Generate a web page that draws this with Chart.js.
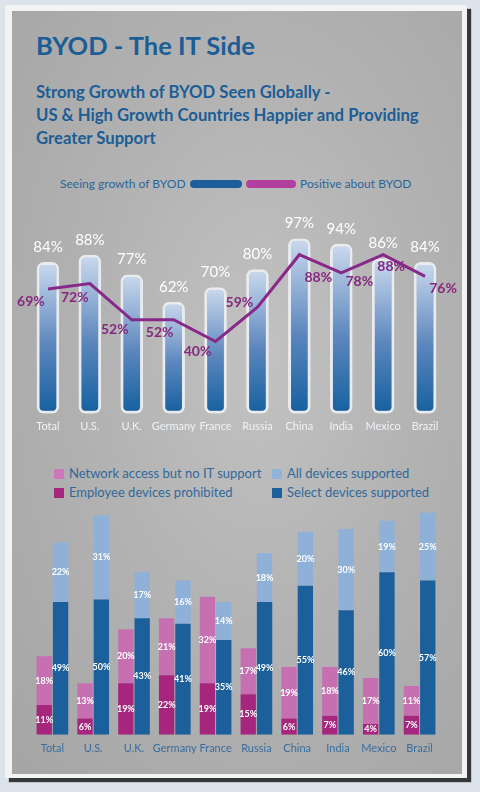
<!DOCTYPE html>
<html>
<head>
<meta charset="utf-8">
<title>BYOD - The IT Side</title>
<script src="https://cdn.jsdelivr.net/npm/chart.js@4.4.1/dist/chart.umd.min.js"></script>
<style>
    body {
        margin: 0;
        width: 480px;
        height: 792px;
        background: #dce3ea;
        position: relative;
        overflow: hidden;
        font-family: Lato, "Open Sans", sans-serif;
    }
    #frame {
        position: absolute;
        left: 5px;
        top: 5px;
        width: 462px;
        height: 773px;
        background: #f1f3f5;
        box-shadow: 4px 4px 1px rgba(25, 25, 25, 0.85);
    }
    #panel {
        position: absolute;
        left: 12px;
        top: 11px;
        width: 450px;
        height: 763px;
        background: radial-gradient(ellipse at 55% 45%, #c2c2c2 0%, #b3b3b3 45%, #a5a5a5 100%);
    }
    h1 {
        position: absolute;
        left: 36px;
        top: 30px;
        margin: 0;
        font-size: 25.5px;
        font-weight: 700;
        color: #1b5d95;
    }
    h2 {
        position: absolute;
        left: 36px;
        top: 81px;
        margin: 0;
        font-size: 16.7px;
        line-height: 23px;
        font-weight: 700;
        color: #1b5d95;
    }
    .legend-top {
        position: absolute;
        top: 176px;
        left: 0;
        width: 480px;
        font-size: 12px;
        color: #2c659a;
    }
    .legend-top span { position: absolute; top: 0; }
    .pill {
        position: absolute;
        top: 180px;
        height: 8px;
        border-radius: 4px;
    }
    .legend-bottom {
        position: absolute;
        font-size: 13px;
        color: #31699b;
        white-space: nowrap;
    }
    .legend-bottom i {
        display: inline-block;
        width: 10px;
        height: 10px;
        margin-right: 5px;
        vertical-align: -1px;
    }
    .chart-box { position: absolute; left: 0; width: 480px; }
</style>
</head>
<body>
<div id="frame"></div>
<div id="panel"></div>

<h1>BYOD - The IT Side</h1>
<h2>Strong Growth of BYOD Seen Globally -<br>US &amp; High Growth Countries Happier and Providing<br>Greater Support</h2>

<div class="legend-top">
    <span style="left:60px">Seeing growth of BYOD</span>
    <span style="left:300px">Positive about BYOD</span>
</div>
<div class="pill" style="left:190px;width:52px;background:#1a5e9a"></div>
<div class="pill" style="left:246px;width:50px;background:#b0409c"></div>

<div class="legend-bottom" style="left:54px;top:465px"><i style="background:#cc77b8"></i>Network access but no IT support</div>
<div class="legend-bottom" style="left:54px;top:484px"><i style="background:#a5267c"></i>Employee devices prohibited</div>
<div class="legend-bottom" style="left:272px;top:465px"><i style="background:#93b4da"></i>All devices supported</div>
<div class="legend-bottom" style="left:272px;top:484px"><i style="background:#1b5f9b"></i>Select devices supported</div>

<div class="chart-box" style="top:215px;height:235px"><canvas id="growthChart"></canvas></div>
<div class="chart-box" style="top:455px;height:317px"><canvas id="supportChart"></canvas></div>

<script>
// datos
const countries = ['Total', 'U.S.', 'U.K.', 'Germany', 'France', 'Russia', 'China', 'India', 'Mexico', 'Brazil'];

const seeingGrowth = [84, 88, 77, 62, 70, 80, 97, 94, 86, 84];
const positiveAbout = [69, 72, 52, 52, 40, 59, 88, 78, 88, 76];

const devicesProhibited = [11, 6, 19, 22, 19, 15, 6, 7, 4, 7];
const networkNoSupport = [18, 13, 20, 21, 32, 17, 19, 18, 17, 11];
const selectSupported = [49, 50, 43, 41, 35, 49, 55, 46, 60, 57];
const allSupported = [22, 31, 17, 16, 14, 18, 20, 30, 19, 25];

// dónde va cada etiqueta morada respecto a su punto (dx, dy)
const lineLabelOffsets = [
    [-17, 12], [-15, 14], [-17, 10], [-14, 13], [-18, 10],
    [-18, -5], [19, 23], [18, 9], [8, 12], [18, 12]
];

// Etiquetas del gráfico superior: % blanco sobre la barra, % morado junto a la línea
const growthLabels = {
    id: 'growthLabels',
    afterDatasetsDraw(chart) {
        const ctx = chart.ctx;
        ctx.save();
        ctx.textAlign = 'center';
        ctx.textBaseline = 'middle';

        ctx.fillStyle = '#ffffff';
        ctx.font = '15px Lato, sans-serif';
        chart.getDatasetMeta(1).data.forEach((bar, i) => {
            ctx.fillText(seeingGrowth[i] + '%', bar.x, bar.y - 15);
        });

        ctx.fillStyle = '#86287f';
        ctx.font = 'bold 14px Lato, sans-serif';
        chart.getDatasetMeta(0).data.forEach((pt, i) => {
            const off = lineLabelOffsets[i];
            ctx.fillText(positiveAbout[i] + '%', pt.x + off[0], pt.y + off[1]);
        });
        ctx.restore();
    }
};

// Etiquetas dentro de cada segmento apilado
const segmentLabels = {
    id: 'segmentLabels',
    afterDatasetsDraw(chart) {
        const ctx = chart.ctx;
        ctx.save();
        ctx.textAlign = 'center';
        ctx.textBaseline = 'middle';
        ctx.fillStyle = '#ffffff';
        ctx.font = 'bold 9px Lato, sans-serif';
        chart.data.datasets.forEach((ds, d) => {
            chart.getDatasetMeta(d).data.forEach((bar, i) => {
                ctx.fillText(ds.data[i] + '%', bar.x, (bar.y + bar.base) / 2);
            });
        });
        ctx.restore();
    }
};

new Chart(document.getElementById('growthChart'), {
    data: {
        labels: countries,
        datasets: [{
            type: 'line',
            label: 'Positive about BYOD',
            data: positiveAbout,
            borderColor: '#88298a',
            borderWidth: 3,
            pointRadius: 0,
            tension: 0,
            order: 0
        }, {
            type: 'bar',
            label: 'Seeing growth of BYOD',
            data: seeingGrowth,
            backgroundColor: function (context) {
                const chart = context.chart;
                if (!chart.chartArea) return '#1a62a0';
                const y = chart.scales.y;
                const g = chart.ctx.createLinearGradient(0, y.getPixelForValue(context.raw), 0, y.getPixelForValue(0));
                g.addColorStop(0, '#cbdaee');
                g.addColorStop(0.55, '#5b86bd');
                g.addColorStop(1, '#14609f');
                return g;
            },
            borderColor: '#e8ecf1',
            borderWidth: 3,
            borderRadius: 7,
            borderSkipped: false,
            barPercentage: 0.54,
            categoryPercentage: 1,
            order: 1
        }]
    },
    options: {
        responsive: true,
        maintainAspectRatio: false,
        animation: false,
        layout: {
            padding: { left: 27, right: 34, top: 18, bottom: 11 }
        },
        plugins: {
            legend: { display: false },
            tooltip: {
                callbacks: {
                    label: function (context) {
                        return `${context.dataset.label}: ${context.parsed.y}%`;
                    }
                }
            }
        },
        scales: {
            y: {
                display: false,
                min: 0,
                max: 100
            },
            x: {
                grid: { display: false, drawTicks: false },
                border: { display: false },
                ticks: {
                    color: '#eef2f6',
                    padding: 6,
                    autoSkip: false,
                    maxRotation: 0,
                    minRotation: 0,
                    font: { size: 11, family: 'Lato' }
                }
            }
        }
    },
    plugins: [growthLabels]
});

new Chart(document.getElementById('supportChart'), {
    type: 'bar',
    data: {
        labels: countries,
        datasets: [{
            label: 'Employee devices prohibited',
            data: devicesProhibited,
            backgroundColor: '#a5267c',
            stack: 'it'
        }, {
            label: 'Network access but no IT support',
            data: networkNoSupport,
            backgroundColor: '#c670b2',
            stack: 'it'
        }, {
            label: 'Select devices supported',
            data: selectSupported,
            backgroundColor: '#1b5f9b',
            stack: 'devices'
        }, {
            label: 'All devices supported',
            data: allSupported,
            backgroundColor: '#8fb0d7',
            stack: 'devices'
        }]
    },
    options: {
        responsive: true,
        maintainAspectRatio: false,
        animation: false,
        datasets: {
            bar: {
                barPercentage: 0.94,
                categoryPercentage: 0.8
            }
        },
        layout: {
            padding: { left: 32, right: 40, top: 9, bottom: 10 }
        },
        plugins: {
            legend: { display: false },
            tooltip: {
                callbacks: {
                    label: function (context) {
                        return `${context.dataset.label}: ${context.parsed.y}%`;
                    }
                }
            }
        },
        scales: {
            y: {
                display: false,
                stacked: true,
                min: 0,
                max: 100
            },
            x: {
                stacked: true,
                grid: { display: false, drawTicks: false },
                border: { display: false },
                ticks: {
                    color: '#3a6d9e',
                    padding: 7,
                    autoSkip: false,
                    maxRotation: 0,
                    minRotation: 0,
                    font: { size: 11, family: 'Lato' }
                }
            }
        }
    },
    plugins: [segmentLabels]
});
</script>
</body>
</html>
